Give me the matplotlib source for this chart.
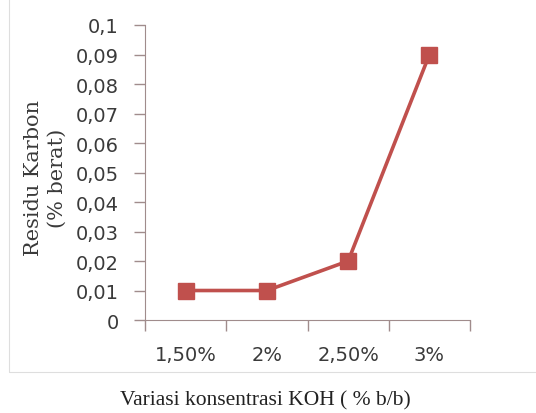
import matplotlib.pyplot as plt
from matplotlib.patches import Rectangle

# Data
kategori = ['1,50%', '2%', '2,50%', '3%']
residu = [0.01, 0.01, 0.02, 0.09]
yticks = [0, 0.01, 0.02, 0.03, 0.04, 0.05, 0.06, 0.07, 0.08, 0.09, 0.1]
ylabels = ['0', '0,01', '0,02', '0,03', '0,04', '0,05', '0,06', '0,07', '0,08', '0,09', '0,1']

plt.rcParams['font.family'] = ['DejaVu Sans']

fig = plt.figure(figsize=(5.36, 4.14), dpi=100)
ax = fig.add_axes([0.2705, 0.2246, 0.6065, 0.7126])

# kotak tipis di belakang grafik
fig.patches.append(Rectangle((9 / 536, 41 / 414), 1.0, 1.0, transform=fig.transFigure,
                             fill=False, edgecolor='#dedede', linewidth=0.8))

x = list(range(len(kategori)))
ax.plot(x, residu, color='#c0504d', linewidth=2.6, marker='s', markersize=11,
        markeredgecolor='#c0504d', markerfacecolor='#c0504d')

ax.set_xlim(-0.5, len(kategori) - 0.5)
ax.set_ylim(0, 0.1)

warna_sumbu = '#a08c8c'
warna_teks = '#3a3a3a'
for s in ['top', 'right']:
    ax.spines[s].set_visible(False)
ax.spines['left'].set_color(warna_sumbu)
ax.spines['bottom'].set_color(warna_sumbu)

ax.set_yticks(yticks)
ax.set_yticklabels(ylabels, fontsize=14, color=warna_teks)
ax.tick_params(axis='y', direction='out', length=8, width=1, color=warna_sumbu, pad=11)

# tanda batas kategori + label di tengah
ax.set_xticks([i - 0.5 for i in range(len(kategori) + 1)])
ax.set_xticklabels([])
ax.tick_params(axis='x', which='major', direction='out', length=8, width=1, color=warna_sumbu)
ax.set_xticks(x, minor=True)
ax.set_xticklabels(kategori, minor=True, fontsize=14, color=warna_teks)
ax.tick_params(axis='x', which='minor', length=0, pad=18)

fig.text(45.5 / 536, 1 - 178 / 414, 'Residu Karbon\n(% berat)', fontsize=15,
         family='DejaVu Serif', color=warna_teks, rotation=90, ha='center', va='center',
         linespacing=1.3, multialignment='center')

fig.text(265 / 536, 1 - 401 / 414, 'Variasi konsentrasi KOH ( % b/b)', fontsize=15.5,
         family='Liberation Serif', color='#222222', ha='center', va='center')

fig.savefig('out.png', dpi=100)
